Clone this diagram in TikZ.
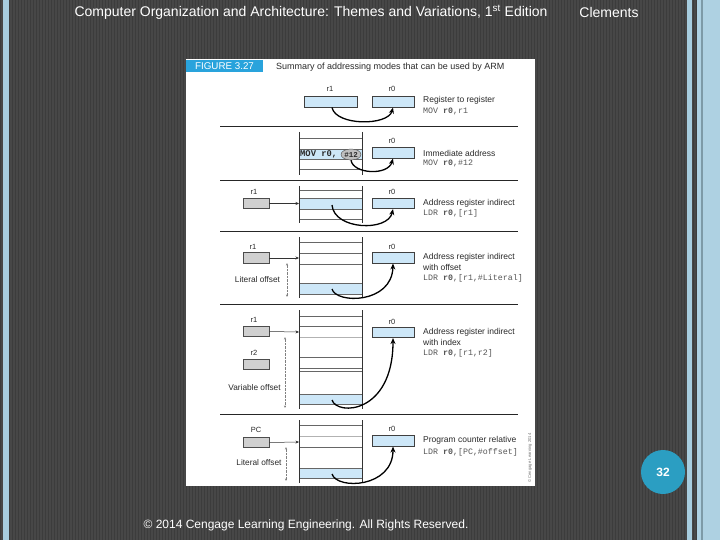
\documentclass[tikz,border=0pt]{standalone}
\usepackage{fontspec}
\setmainfont{Liberation Sans}
\setmonofont{Liberation Mono}
\usetikzlibrary{arrows.meta,shapes.geometric}
\definecolor{bgdark}{HTML}{474747}
\definecolor{bgstripe}{HTML}{3C3C3C}
\definecolor{edgeblue}{HTML}{A7CDDF}
\definecolor{figblue}{HTML}{29A3DC}
\definecolor{cellblue}{HTML}{CDE7F8}
\definecolor{reggray}{HTML}{D0D0D0}
\definecolor{pageblue}{HTML}{2B9EC2}
\definecolor{inkdark}{HTML}{2A2A2A}
\definecolor{monogray}{HTML}{555555}
\newcommand{\fs}[1]{\fontsize{#1}{#1}\selectfont}
\begin{document}
\begin{tikzpicture}[x=1pt,y=-1pt,
  bluereg/.style={draw=black!75, fill=cellblue, minimum width=42pt, minimum height=10.5pt, inner sep=0pt, line width=0.6pt},
  grayreg/.style={draw=black!70, fill=reggray, minimum width=26pt, minimum height=10.5pt, inner sep=0pt, line width=0.6pt},
  reglbl/.style={inner sep=0pt, font=\fs{7.5}, text=inkdark},
  desc/.style={anchor=west, inner sep=0pt, font=\fs{8.5}, text=inkdark},
  code/.style={anchor=west, inner sep=0pt, font=\ttfamily\fs{8.3}, text=monogray},
  sepline/.style={draw=black!85, line width=0.8pt},
  colline/.style={draw=black!80, line width=0.8pt},
  rowline/.style={draw=black!60, line width=0.6pt},
  lightrow/.style={draw=black!30, line width=0.6pt},
  curv/.style={line width=1.3pt, -{Stealth[length=6pt,width=5pt]}},
  ptr/.style={line width=0.5pt, draw=black!80, -{Stealth[length=3.5pt,width=3pt]}},
  dimarr/.style={line width=0.4pt, draw=black!50, densely dotted, {Stealth[length=2.5pt,width=2pt]}-{Stealth[length=2.5pt,width=2pt]}},
  offlbl/.style={inner sep=0pt, font=\fs{8.3}, text=inkdark}
]
\useasboundingbox (0,0) rectangle (720,540);
% background
\fill[bgdark] (0,0) rectangle (720,540);
\foreach \i in {0,3,...,717} \draw[bgstripe, line width=0.9pt] (\i+0.5,0) -- (\i+0.5,540);
\fill[edgeblue] (3,0) rectangle (9,540);
\fill[edgeblue] (687,0) rectangle (692,540);
\fill[edgeblue!92!white] (697,0) rectangle (720,540);
\fill[edgeblue!75!black] (701,0) rectangle (702.5,540);
% header/footer
\node[text=white, inner sep=0pt, font=\fs{14}] (hdr) at (311,12) {Computer Organization and Architecture: Themes and Variations, 1\textsuperscript{st} Edition};
\node[text=white, inner sep=0pt, font=\fs{14}] (auth) at (609,12) {Clements};
\node[text=white, inner sep=0pt, font=\fs{12}] (ftr) at (306,525) {© 2014 Cengage Learning Engineering. All Rights Reserved.};
\node[circle, fill=pageblue, minimum size=44pt, inner sep=0pt, text=white, font=\bfseries\fs{12}] (pg) at (663,472) {32};
% panel
\fill[white] (186,59) rectangle (535,486);
\node[fill=figblue, text=white, minimum width=77pt, minimum height=12pt, inner sep=0pt, font=\fs{9.8}] (fig) at (224.5,66) {FIGURE 3.27};
\node[anchor=west, inner sep=0pt, font=\fs{9}, text=inkdark] (cap) at (276,67) {Summary of addressing modes that can be used by ARM};
\node[rotate=90, inner sep=0pt, font=\fs{4.2}, text=black!55] (cpr) at (530,458) {© Cengage Learning 2014};
% separators
\foreach \y in {126,180,231,304,414} \draw[sepline] (220,\y) -- (518,\y);

% ---------- section 1: register to register
\node[bluereg, minimum width=53pt] (s1r1) at (330.5,102) {};
\node[bluereg] (s1r0) at (393,102) {};
\node[reglbl] (s1r1l) at (330,89) {r1};
\node[reglbl] (s1r0l) at (392,89) {r0};
\node[desc] (s1d) at (423,100) {Register to register};
\node[code] (s1c) at (423,111) {MOV \textbf{r0},r1};
\draw[curv] ([xshift=1.5pt]s1r1.south) .. controls (336,126) and (388,126) .. (s1r0.south);

% ---------- section 2: immediate
\fill[cellblue] (299,149) rectangle (362,159);
\foreach \y in {138,149,159,169} \draw[rowline] (299,\y) -- (362,\y);
\draw[colline] (299,132) -- (299,175);
\draw[colline] (362,132) -- (362,175);
\node[anchor=west, inner sep=0pt, font=\ttfamily\bfseries\fs{8.8}, text=inkdark] (s2mov) at (300,154) {MOV r0,};
\node[ellipse, draw=black!70, fill=black!25, inner sep=0pt, minimum width=20pt, minimum height=11pt, font=\ttfamily\bfseries\fs{7.5}, text=inkdark] (s2imm) at (351,154.5) {\#12};
\node[bluereg] (s2r0) at (393,153) {};
\node[reglbl] (s2r0l) at (392,141) {r0};
\node[desc] (s2d) at (423,153) {Immediate address};
\node[code] (s2c) at (423,163) {MOV \textbf{r0},\#12};
\draw[curv] (s2imm.south) .. controls (353,174) and (388,176) .. (s2r0.south);

% ---------- section 3: address register indirect
\fill[cellblue] (299,198) rectangle (362,209);
\foreach \y in {190,198,209,219} \draw[rowline] (299,\y) -- (362,\y);
\draw[colline] (299,186) -- (299,223);
\draw[colline] (362,186) -- (362,223);
\coordinate (s3m) at (299,203.5);
\coordinate (s3src) at (332,205);
\node[grayreg] (s3r1) at (256,203.5) {};
\node[reglbl] (s3r1l) at (254,192) {r1};
\node[bluereg] (s3r0) at (393,203.5) {};
\node[reglbl] (s3r0l) at (392,192) {r0};
\node[desc] (s3d) at (423,203) {Address register indirect};
\node[code] (s3c) at (423,213.5) {LDR \textbf{r0},[r1]};
\draw[ptr] (s3r1.east) -- (s3m);
\draw[curv] (s3src) .. controls (334,230) and (388,232) .. (s3r0.south);

% ---------- section 4: with offset
\fill[cellblue] (299,283) rectangle (362,294);
\foreach \y in {242,253,264,283,294} \draw[rowline] (299,\y) -- (362,\y);
\draw[colline] (299,237) -- (299,298);
\draw[colline] (362,237) -- (362,298);
\coordinate (s4m) at (299,258);
\coordinate (s4src) at (332,289);
\coordinate (s4ta) at (287,263);
\coordinate (s4tb) at (287,297);
\node[grayreg] (s4r1) at (256,258) {};
\node[reglbl] (s4r1l) at (253,247) {r1};
\node[bluereg] (s4r0) at (393,258) {};
\node[reglbl] (s4r0l) at (392,247) {r0};
\node[offlbl] (s4o) at (257.5,279.5) {Literal offset};
\node[desc] (s4d) at (423,257) {Address register indirect};
\node[desc] (s4d2) at (423,267.5) {with offset};
\node[code] (s4c) at (423,278) {LDR \textbf{r0},[r1,\#Literal]};
\draw[ptr] (s4r1.east) -- (s4m);
\draw[dimarr] (s4ta) -- (s4tb);
\draw[curv] (s4src) .. controls (336,304) and (392,304) .. (s4r0.south);

% ---------- section 5: with index
\fill[cellblue] (299,394) rectangle (362,404);
\foreach \y in {316,326,357,368,371,394,404} \draw[rowline] (299,\y) -- (362,\y);
\draw[lightrow] (299,337) -- (362,337);
\draw[colline] (299,310) -- (299,409);
\draw[colline] (362,310) -- (362,409);
\coordinate (s5m) at (299,332);
\coordinate (s5src) at (332,400);
\coordinate (s5ta) at (285,337);
\coordinate (s5tb) at (285,408);
\node[grayreg] (s5r1) at (256,331.5) {};
\node[reglbl] (s5r1l) at (254,320) {r1};
\node[grayreg] (s5r2) at (256,364.5) {};
\node[reglbl] (s5r2l) at (254,353) {r2};
\node[bluereg] (s5r0) at (393,332.5) {};
\node[reglbl] (s5r0l) at (392,322) {r0};
\node[offlbl] (s5o) at (254.5,388) {Variable offset};
\node[desc] (s5d) at (423,332) {Address register indirect};
\node[desc] (s5d2) at (423,342.5) {with index};
\node[code] (s5c) at (423,353) {LDR \textbf{r0},[r1,r2]};
\draw[ptr] (s5r1.east) -- (s5m);
\draw[dimarr] (s5ta) -- (s5tb);
\draw[curv] (s5src) .. controls (337,416) and (393,414) .. (s5r0.south);

% ---------- section 6: PC relative
\fill[cellblue] (299,468) rectangle (362,478);
\foreach \y in {425,447,468,478} \draw[rowline] (299,\y) -- (362,\y);
\draw[lightrow] (299,436) -- (362,436);
\draw[colline] (299,420) -- (299,483);
\draw[colline] (362,420) -- (362,483);
\coordinate (s6m) at (299,442);
\coordinate (s6src) at (332,474);
\coordinate (s6ta) at (286,447);
\coordinate (s6tb) at (286,481);
\node[grayreg] (s6pc) at (256,442.5) {};
\node[reglbl] (s6pcl) at (256,430) {PC};
\node[bluereg] (s6r0) at (393,441) {};
\node[reglbl] (s6r0l) at (392,429) {r0};
\node[offlbl] (s6o) at (259,463) {Literal offset};
\node[desc] (s6d) at (423,440.5) {Program counter relative};
\node[code] (s6c) at (423,452) {LDR \textbf{r0},[PC,\#offset]};
\draw[ptr] (s6pc.east) -- (s6m);
\draw[dimarr] (s6ta) -- (s6tb);
\draw[curv] (s6src) .. controls (337,490) and (393,488) .. (s6r0.south);
\end{tikzpicture}
\end{document}
